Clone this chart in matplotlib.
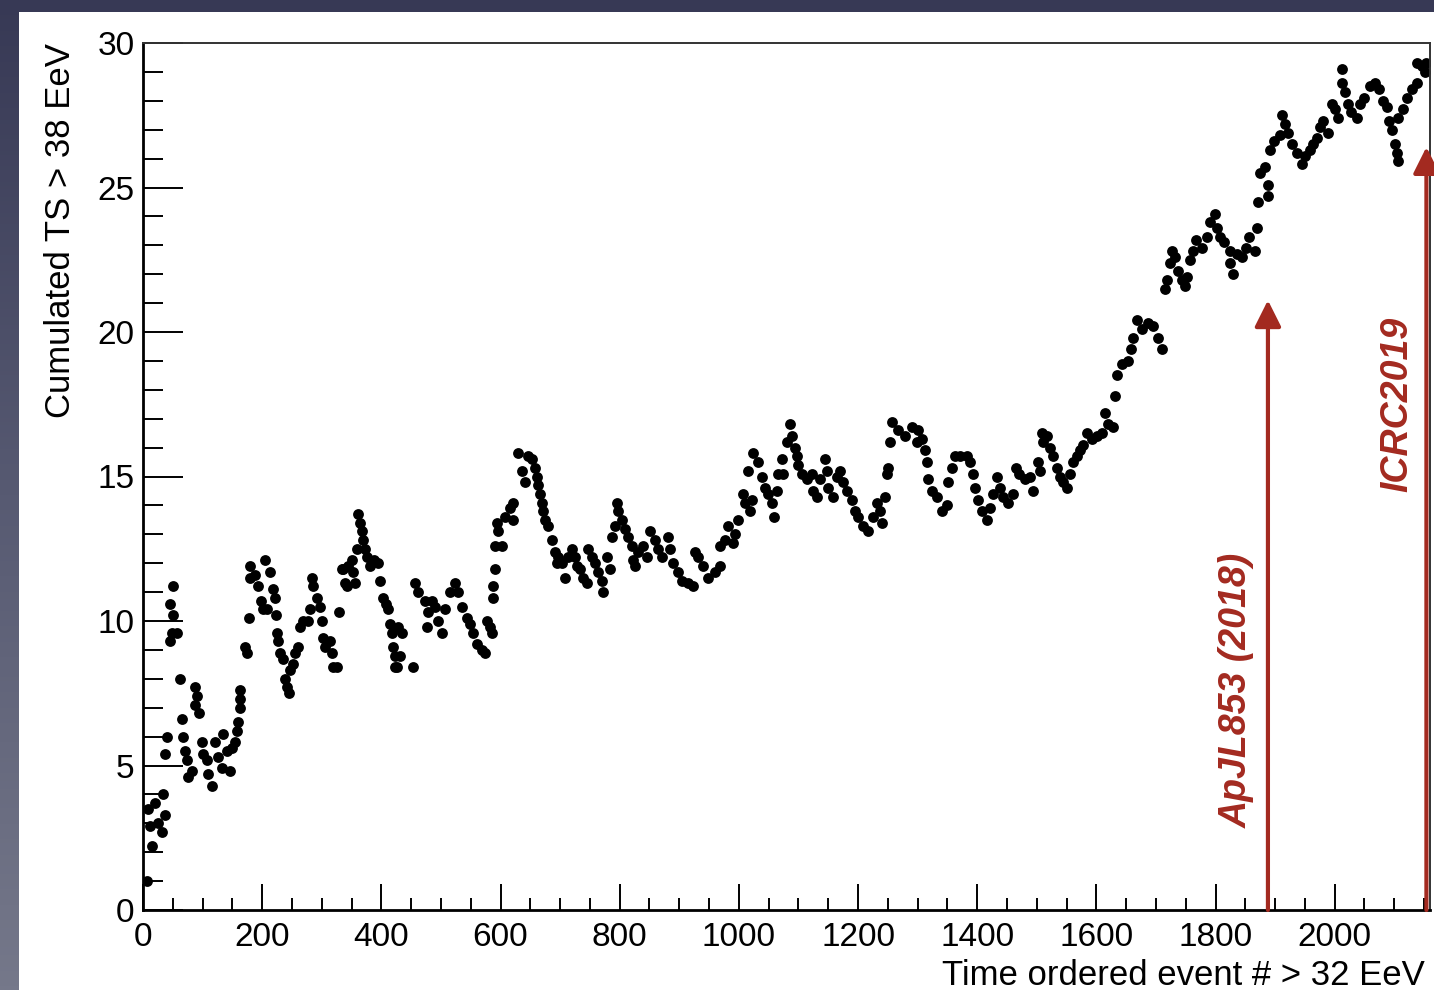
#!/usr/bin/env python3

from __future__ import annotations

import matplotlib

matplotlib.use("Agg")
import matplotlib.pyplot as plt
import numpy as np
from matplotlib.colors import LinearSegmentedColormap
from matplotlib.patches import Rectangle
from matplotlib.ticker import MultipleLocator

# cumulated TS vs time-ordered event number
SEG_A_EVENT = [7, 8, 12, 15, 20, 25, 32, 34, 37, 37, 40,
               45, 49, 50, 45, 50, 57,
               62, 65, 67, 70, 74, 76, 82,
               87, 91, 87, 94,
               99, 101, 107, 109, 116,
               121, 126, 133, 134, 141, 146, 149, 154, 158, 159, 163, 163, 163,
               174, 171, 178, 180, 180, 188, 193, 198, 201, 208,
               205, 213, 218, 221, 223, 225, 227, 230, 235, 238, 242, 245, 247, 252, 255, 260, 263, 268, 277, 280,
               284, 285, 292, 297, 300, 302, 305, 314, 317, 319, 326,
               329, 334, 339, 344, 352, 356]
SEG_A_TS = [1.0, 3.5, 2.9, 2.2, 3.7, 3.0, 2.7, 4.0, 3.3, 5.4, 6.0,
            9.3, 9.6, 10.2, 10.6, 11.2, 9.6,
            8.0, 6.6, 6.0, 5.5, 5.2, 4.6, 4.8,
            7.7, 7.4, 7.1, 6.8,
            5.8, 5.4, 5.2, 4.7, 4.3,
            5.8, 5.3, 4.9, 6.1, 5.5, 4.8, 5.6, 5.8, 6.2, 6.5, 7.0, 7.3, 7.6,
            8.9, 9.1, 10.1, 11.5, 11.9, 11.6, 11.2, 10.7, 10.4, 10.4,
            12.1, 11.7, 11.1, 10.8, 10.2, 9.6, 9.3, 8.9, 8.7, 8.0, 7.7, 7.5, 8.3, 8.5, 8.9, 9.1, 9.8, 10.0, 10.0, 10.4,
            11.5, 11.2, 10.8, 10.5, 10.0, 9.4, 9.1, 9.3, 8.9, 8.4, 8.4,
            10.3, 11.8, 11.3, 11.9, 11.7, 11.3]

SEG_B_EVENT = [336, 342, 351, 359, 361, 364, 367, 369, 372, 376, 381, 388, 394, 398,
               403, 407, 411, 414, 418, 419, 423, 423]
SEG_B_TS = [11.8, 11.2, 12.1, 12.5, 13.7, 13.4, 13.1, 12.8, 12.5, 12.2, 11.9, 12.1, 12.0, 11.4,
            10.8, 10.6, 10.4, 9.9, 9.6, 9.1, 8.8, 8.4]

SEG_C_EVENT = [426, 428, 431, 435, 453, 456, 461, 473, 478, 477, 485, 490, 495, 502, 507, 515,
               523, 529, 535, 544, 549, 554, 560, 569, 574, 577, 582, 586,
               587, 587, 591, 591, 602, 596, 594, 607, 616, 621, 621,
               629, 636, 641, 646, 653, 658, 661, 663, 666, 669, 671, 674, 680, 686, 691, 695, 696,
               703, 708, 713, 720, 725, 728, 733, 738, 745, 747, 753, 758, 763, 770, 772, 779, 784,
               787, 792, 795, 797, 804, 809, 814, 820, 822, 825, 831, 839, 846, 851, 859, 864]
SEG_C_TS = [8.4, 9.8, 8.8, 9.6, 8.4, 11.3, 11.0, 10.7, 10.3, 9.8, 10.7, 10.5, 10.0, 9.6, 10.4, 11.0,
            11.3, 11.0, 10.5, 10.1, 9.9, 9.6, 9.2, 9.0, 8.9, 10.0, 9.8, 9.6,
            10.8, 11.2, 11.8, 12.6, 12.6, 13.1, 13.4, 13.6, 13.9, 14.1, 13.5,
            15.8, 15.2, 14.8, 15.7, 15.6, 15.3, 15.0, 14.7, 14.4, 14.1, 13.8, 13.5, 13.3, 12.8, 12.4, 12.0, 12.2,
            12.0, 11.5, 12.2, 12.5, 12.2, 11.9, 11.8, 11.5, 11.3, 12.5, 12.2, 12.0, 11.7, 11.4, 11.0, 12.2, 11.8,
            12.9, 13.3, 14.1, 13.8, 13.5, 13.2, 12.9, 12.6, 12.1, 11.9, 12.4, 12.6, 12.2, 13.1, 12.8, 12.5]

SEG_D_EVENT = [871, 881, 884, 889, 898, 904, 914, 923, 926, 931, 940, 948, 960, 968, 968, 976,
               982, 990, 993, 998, 1007, 1010, 1018, 1022, 1015, 1023, 1032, 1039, 1044, 1049,
               1055, 1059, 1064, 1065, 1072, 1074, 1081, 1086, 1089, 1094, 1097, 1099, 1106, 1114,
               1122, 1124, 1131, 1136, 1144, 1148, 1149, 1158, 1164, 1169, 1174, 1181, 1190, 1195,
               1200, 1208, 1216, 1225, 1232, 1237, 1240, 1245, 1248, 1250, 1253, 1257, 1267, 1279,
               1290, 1299]
SEG_D_TS = [12.2, 12.9, 12.5, 12.0, 11.7, 11.4, 11.3, 11.2, 12.4, 12.2, 11.9, 11.5, 11.7, 11.9, 12.6, 12.8,
            13.3, 12.7, 13.0, 13.5, 14.4, 14.1, 13.8, 14.2, 15.2, 15.8, 15.5, 15.0, 14.6, 14.4,
            14.1, 13.6, 14.5, 15.1, 15.6, 15.1, 16.2, 16.8, 16.4, 16.0, 15.7, 15.4, 15.1, 14.9,
            15.1, 14.5, 14.3, 14.9, 15.6, 15.2, 14.6, 14.3, 15.0, 15.2, 14.8, 14.5, 14.2, 13.8,
            13.6, 13.3, 13.1, 13.6, 14.1, 13.8, 13.4, 14.3, 15.1, 15.3, 16.2, 16.9, 16.6, 16.4,
            16.7, 16.2]

SEG_E_EVENT = [1300, 1307, 1312, 1315, 1317, 1324, 1332, 1341, 1349, 1351, 1357, 1362, 1371, 1383,
               1388, 1393, 1396, 1401, 1408, 1416, 1421, 1426, 1433, 1438, 1443, 1451, 1460, 1466,
               1471, 1480, 1488, 1493, 1502, 1505, 1508, 1510, 1518, 1522, 1527, 1534, 1539, 1544,
               1550, 1555, 1560, 1567, 1572, 1577, 1584, 1592, 1601, 1609, 1614, 1619, 1628, 1631,
               1634, 1643, 1653, 1659, 1661, 1668, 1676, 1686, 1695, 1703, 1710]
SEG_E_TS = [16.6, 16.3, 15.9, 15.5, 14.9, 14.5, 14.3, 13.8, 14.0, 14.8, 15.3, 15.7, 15.7, 15.7,
            15.5, 15.1, 14.6, 14.2, 13.8, 13.5, 13.9, 14.4, 15.0, 14.6, 14.3, 14.1, 14.4, 15.3,
            15.1, 14.9, 15.0, 14.5, 15.5, 15.2, 16.5, 16.2, 16.4, 16.0, 15.7, 15.3, 15.0, 14.8,
            14.6, 15.1, 15.5, 15.7, 15.9, 16.1, 16.5, 16.3, 16.4, 16.5, 17.2, 16.8, 16.7, 17.8,
            18.5, 18.9, 19.0, 19.4, 19.8, 20.4, 20.1, 20.3, 20.2, 19.8, 19.4]

SEG_F_EVENT = [1715, 1718, 1723, 1727, 1732, 1737, 1743, 1748, 1752, 1757, 1762, 1768, 1777, 1785,
               1790, 1799, 1802, 1807, 1815, 1824, 1824, 1829, 1836, 1844, 1852, 1857, 1866, 1869,
               1871, 1888, 1874, 1883, 1888, 1891, 1899, 1908, 1911, 1916, 1921, 1928, 1936, 1945,
               1950, 1958, 1963, 1970, 1975, 1980, 1988, 1995, 2000, 2005, 2012, 2013, 2017, 2022,
               2028, 2037, 2042, 2050, 2059, 2067, 2075, 2081, 2087, 2092, 2097, 2101, 2104, 2106,
               2106, 2114, 2121, 2129, 2138, 2138, 2146, 2151, 2154]
SEG_F_TS = [21.5, 21.8, 22.4, 22.8, 22.6, 22.1, 21.8, 21.6, 21.9, 22.5, 22.8, 23.2, 22.9, 23.3,
            23.8, 24.1, 23.6, 23.3, 23.1, 22.8, 22.4, 22.0, 22.7, 22.6, 22.9, 23.3, 22.8, 23.6,
            24.5, 24.7, 25.5, 25.7, 25.1, 26.3, 26.6, 26.8, 27.5, 27.2, 26.9, 26.5, 26.2, 25.8,
            26.1, 26.3, 26.5, 26.7, 27.1, 27.3, 26.9, 27.9, 27.7, 27.4, 29.1, 28.6, 28.3, 27.9,
            27.6, 27.4, 27.9, 28.1, 28.5, 28.6, 28.4, 28.0, 27.8, 27.3, 27.0, 26.5, 26.2, 25.9,
            27.4, 27.7, 28.1, 28.4, 28.6, 29.3, 29.2, 29.0, 29.3]

# publication markers: event number where the arrow sits, arrow tip height, label
MARK_EVENTS = [1888, 2154]
MARK_TIPS = [21.1, 26.4]
MARK_LABELS = ["ApJL853 (2018)", "ICRC2019"]
LABEL_EVENTS = [1836, 2106]
LABEL_TS = [7.6, 17.5]

RED = "#a32a20"


def main() -> None:
    plt.rcParams.update({"font.family": ["Liberation Sans", "DejaVu Sans"], "font.size": 24})

    events = np.concatenate([SEG_A_EVENT, SEG_B_EVENT, SEG_C_EVENT, SEG_D_EVENT, SEG_E_EVENT, SEG_F_EVENT])
    ts = np.concatenate([SEG_A_TS, SEG_B_TS, SEG_C_TS, SEG_D_TS, SEG_E_TS, SEG_F_TS])

    fig = plt.figure(figsize=(14.34, 9.9), dpi=100)

    # slide background + white canvas
    bg = fig.add_axes([0, 0, 1, 1], zorder=-10)
    cmap = LinearSegmentedColormap.from_list("slide", ["#373955", "#575a72", "#75788a"])
    bg.imshow(np.linspace(0, 1, 256).reshape(-1, 1), aspect="auto", cmap=cmap,
              extent=[0, 1, 0, 1], origin="upper")
    bg.add_patch(Rectangle((19 / 1434, 0), 1, 1 - 12 / 990, facecolor="white", edgecolor="none"))
    bg.set_xlim(0, 1)
    bg.set_ylim(0, 1)
    bg.axis("off")

    ax = fig.add_axes([143 / 1434, 80 / 990, 1287 / 1434, 867 / 990])
    ax.set_facecolor("white")
    ax.plot(events, ts, "o", color="black", ms=7.8, mew=0)

    ax.set_xlim(0, 2160)
    ax.set_ylim(0, 30)
    ax.xaxis.set_major_locator(MultipleLocator(200))
    ax.xaxis.set_minor_locator(MultipleLocator(50))
    ax.yaxis.set_major_locator(MultipleLocator(5))
    ax.yaxis.set_minor_locator(MultipleLocator(1))
    ax.tick_params(which="both", direction="in", top=False, right=False, width=1.4, colors="black")
    ax.tick_params(axis="y", which="major", length=29, pad=6)
    ax.tick_params(axis="y", which="minor", length=14.5)
    ax.tick_params(axis="x", which="major", length=19, pad=9)
    ax.tick_params(axis="x", which="minor", length=9)
    for side in ("left", "bottom"):
        ax.spines[side].set_linewidth(2)
    for side in ("top", "right"):
        ax.spines[side].set_linewidth(1.4)
        ax.spines[side].set_color("#333333")

    ax.set_ylabel("Cumulated TS > 38 EeV", loc="top", fontsize=25)
    ax.yaxis.set_label_coords(-0.0513, 1.0)
    ax.set_xlabel("Time ordered event # > 32 EeV", loc="right", fontsize=25)
    ax.xaxis.set_label_coords(0.996, -0.056)

    for ev, tip, label, lx, ly in zip(MARK_EVENTS, MARK_TIPS, MARK_LABELS, LABEL_EVENTS, LABEL_TS):
        ax.annotate("", xy=(ev, tip), xytext=(ev, 0), annotation_clip=False,
                    arrowprops=dict(arrowstyle="-|>,head_length=0.4,head_width=0.2", color=RED,
                                    lw=3, mutation_scale=40, shrinkA=0, shrinkB=0))
        ax.text(lx, ly, label, rotation=90, ha="center", va="center", color=RED,
                fontsize=27, fontweight="bold", fontstyle="italic")

    fig.savefig("out.png", dpi=100)
    plt.close(fig)


if __name__ == "__main__":
    main()
